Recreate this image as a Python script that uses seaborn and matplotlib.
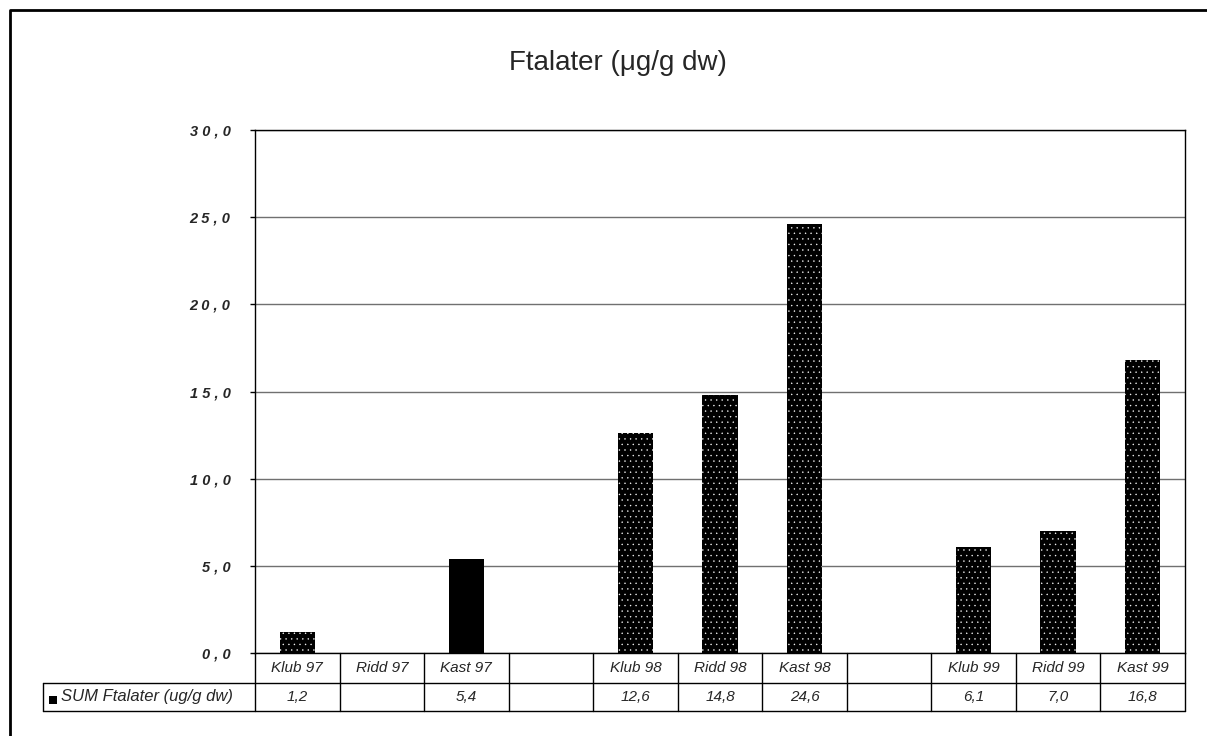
import numpy as np
import pandas as pd
import matplotlib
matplotlib.use("Agg")
import matplotlib.pyplot as plt
import matplotlib.transforms as mtransforms
from matplotlib.lines import Line2D
from matplotlib.patches import Rectangle
import seaborn as sns

# ---- data ----
categories = ["Klub 97", "Ridd 97", "Kast 97", " ",
              "Klub 98", "Ridd 98", "Kast 98", "  ",
              "Klub 99", "Ridd 99", "Kast 99"]
values = [1.2, np.nan, 5.4, np.nan, 12.6, 14.8, 24.6, np.nan, 6.1, 7.0, 16.8]
series_name = "SUM Ftalater (ug/g dw)"
title = "Ftalater (\u03bcg/g dw)"
y_ticks = [0, 5, 10, 15, 20, 25, 30]
solid_fill = ["Kast 97"]

df = pd.DataFrame({"cat": categories, "val": values})

sns.set_theme(style="white")
plt.rcParams["font.family"] = ["Liberation Sans", "DejaVu Sans"]
plt.rcParams["hatch.linewidth"] = 0.25

W, H = 1207, 736
fig = plt.figure(figsize=(W / 100, H / 100), dpi=100)
fig.patch.set_facecolor("white")

L, R, T, B = 255, 1185, 130, 653
ax = fig.add_axes([L / W, 1 - B / H, (R - L) / W, (B - T) / H])

sns.barplot(data=df, x="cat", y="val", order=categories, color="black",
            saturation=1, width=0.42, edgecolor="white", linewidth=0,
            errorbar=None, ax=ax)

for p in ax.patches:
    idx = int(round(p.get_x() + p.get_width() / 2))
    if categories[idx] in solid_fill:
        p.set_hatch("")
        p.set_edgecolor("black")
    else:
        p.set_hatch("...")
        p.set_edgecolor("white")
    p.set_linewidth(0)
    p.set_zorder(3)

ax.set_ylim(0, 30)
ax.set_xlim(-0.5, len(categories) - 0.5)
ax.set_yticks(y_ticks)
ax.set_yticklabels([" ".join(f"{v:.1f}".replace(".", ",")) for v in y_ticks],
                   fontsize=10.5, fontweight="bold", fontstyle="italic")
ax.tick_params(axis="y", direction="out", length=3.6, width=1, color="black",
               pad=14, left=True)
ax.set_xticks([])
ax.set_xlabel("")
ax.set_ylabel("")
ax.yaxis.grid(True, color="#707070", linewidth=1)
ax.set_axisbelow(True)
for s in ax.spines.values():
    s.set_visible(True)
    s.set_color("black")
    s.set_linewidth(1)

# ---- data table ----
ah = B - T
row1 = -30 / ah
row2 = -58 / ah
tr = mtransforms.blended_transform_factory(ax.transData, ax.transAxes)
n = len(categories)
for i in range(n + 1):
    ax.add_line(Line2D([i - 0.5, i - 0.5], [0, row2], transform=tr,
                       color="black", linewidth=1, clip_on=False))
legend_left = 43
fx0 = legend_left / W
for yy in (683, 711):
    fig.add_artist(Line2D([fx0, R / W], [1 - yy / H, 1 - yy / H],
                          transform=fig.transFigure, color="black", linewidth=1))
fig.add_artist(Line2D([fx0, fx0], [1 - 683 / H, 1 - 711 / H],
                      transform=fig.transFigure, color="black", linewidth=1))

for i, (c, v) in enumerate(zip(categories, values)):
    ax.text(i, row1 / 2, c.strip(), transform=tr, ha="center", va="center",
            fontsize=11, fontstyle="italic", clip_on=False)
    if not np.isnan(v):
        ax.text(i, (row1 + row2) / 2, f"{v:.1f}".replace(".", ","), transform=tr,
                ha="center", va="center", fontsize=11, fontstyle="italic",
                clip_on=False)

# legend key + series name
fig.add_artist(Rectangle((49 / W, 1 - 704 / H), 8 / W, 8 / H,
                         transform=fig.transFigure, facecolor="black",
                         edgecolor="none"))
fig.text(61 / W, 1 - 697 / H, series_name, ha="left", va="center",
         fontsize=12, fontstyle="italic")

# title
fig.text(618 / W, 1 - 63 / H, title, ha="center", va="center", fontsize=20)

# outer frame
fig.add_artist(Line2D([10 / W, 10 / W, 1.0], [0.0, 1 - 10 / H, 1 - 10 / H],
                      transform=fig.transFigure, color="black", linewidth=2))

fig.savefig("out.png", dpi=100, facecolor="white")
